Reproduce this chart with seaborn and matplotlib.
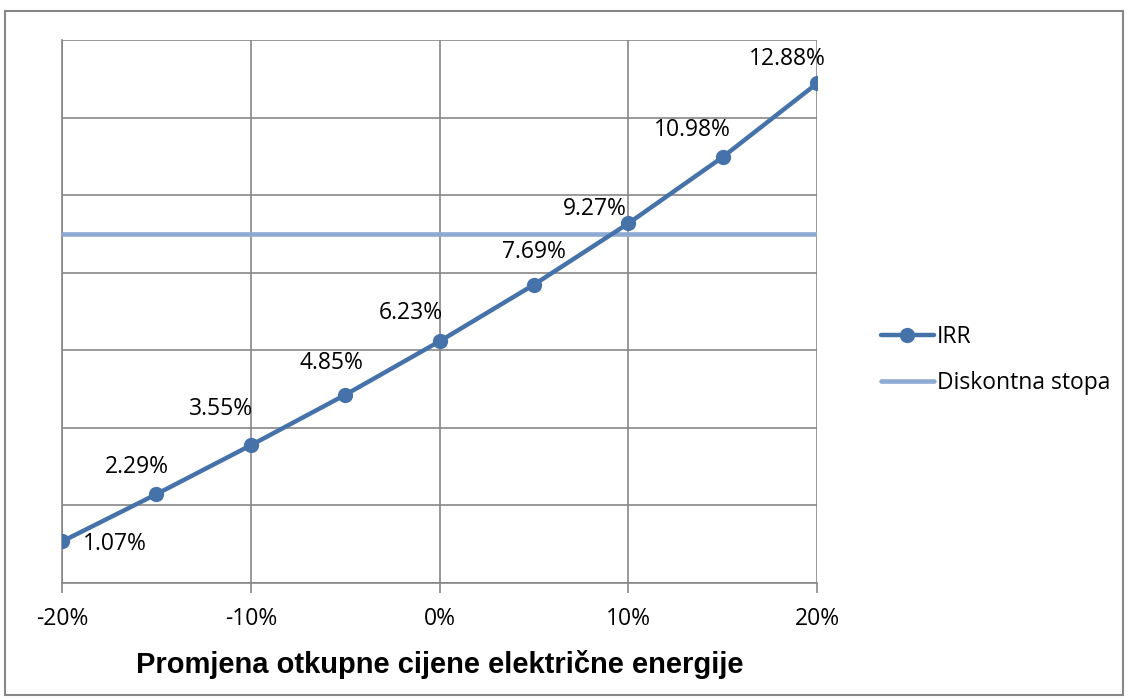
import matplotlib
matplotlib.use("Agg")
import matplotlib.pyplot as plt
import seaborn as sns
import pandas as pd
from matplotlib.patches import Rectangle

# data
price_change = [-20, -15, -10, -5, 0, 5, 10, 15, 20]
irr = [1.07, 2.29, 3.55, 4.85, 6.23, 7.69, 9.27, 10.98, 12.88]
discount_rate = [9.0] * 9
irr_labels = ["1.07%", "2.29%", "3.55%", "4.85%", "6.23%", "7.69%", "9.27%", "10.98%", "12.88%"]
x_ticks = [-20, -10, 0, 10, 20]
x_tick_labels = ["-20%", "-10%", "0%", "10%", "20%"]

# label offsets (pixels) – styling only
label_offsets = [(53, -3), (-20, 27), (-30, 36), (-14, 32), (-29, 28),
                 (0, 33), (-33, 14), (-30, 27), (-30, 24)]

sns.set_theme(style="white")
plt.rcParams["font.family"] = ["Open Sans", "DejaVu Sans"]

fig = plt.figure(figsize=(11.29, 7.0), dpi=100)
ax = fig.add_axes([62 / 1129, 1 - 583 / 700, (817 - 62) / 1129, (583 - 40) / 700])

df = pd.DataFrame({"x": price_change, "IRR": irr, "Diskontna stopa": discount_rate})

irr_color = "#4672AA"
disc_color = "#8EA9D2"
grid_color = "#878787"
fs = 16.5

sns.lineplot(data=df, x="x", y="Diskontna stopa", ax=ax, color=disc_color,
             linewidth=3.3, label="Diskontna stopa", zorder=3)
sns.lineplot(data=df, x="x", y="IRR", ax=ax, color=irr_color, linewidth=3.2,
             marker="o", markersize=11, markeredgewidth=0, label="IRR", zorder=4)

for xv, yv, lab, (dx, dy) in zip(price_change, irr, irr_labels, label_offsets):
    ax.annotate(lab, (xv, yv), xytext=(dx, dy), textcoords="offset pixels",
                ha="center", va="center", fontsize=fs, color="black", zorder=5)

ax.set_xlim(-20, 20)
ax.set_ylim(0, 14)
ax.set_yticks(range(0, 15, 2))
ax.set_yticklabels([])
ax.set_xticks(x_ticks)
ax.set_xticklabels(x_tick_labels, fontsize=fs, color="black")
ax.tick_params(axis="x", which="both", direction="out", length=7, width=1.2,
               color=grid_color, pad=10, bottom=True)
ax.tick_params(axis="y", length=0)
ax.grid(True, color=grid_color, linewidth=1.2)
ax.set_axisbelow(True)
for s in ax.spines.values():
    s.set_visible(False)
ax.spines["left"].set_visible(True)
ax.spines["bottom"].set_visible(True)
ax.spines["left"].set_color(grid_color)
ax.spines["bottom"].set_color(grid_color)
ax.spines["left"].set_linewidth(1.2)
ax.spines["bottom"].set_linewidth(1.2)

ax.set_ylabel("")
ax.set_xlabel("Promjena otkupne cijene električne energije", fontsize=21,
              fontweight="bold", family="Liberation Sans", labelpad=14, color="black")

handles, labels = ax.get_legend_handles_labels()
order = [labels.index("IRR"), labels.index("Diskontna stopa")]
leg = ax.legend([handles[i] for i in order], [labels[i] for i in order],
                loc="center left", bbox_to_anchor=(881 / 1129, 1 - 360 / 700),
                bbox_transform=fig.transFigure, frameon=False, fontsize=fs,
                handlelength=2.3, handletextpad=0.15, labelspacing=1.0,
                borderpad=0, borderaxespad=0)
for t in leg.get_texts():
    t.set_color("black")

fig.patches.append(Rectangle((5 / 1129, 1 - 695 / 700), 1118 / 1129, 684 / 700,
                             transform=fig.transFigure, fill=False,
                             edgecolor=grid_color, linewidth=1.5))

fig.savefig("out.png", dpi=100)
